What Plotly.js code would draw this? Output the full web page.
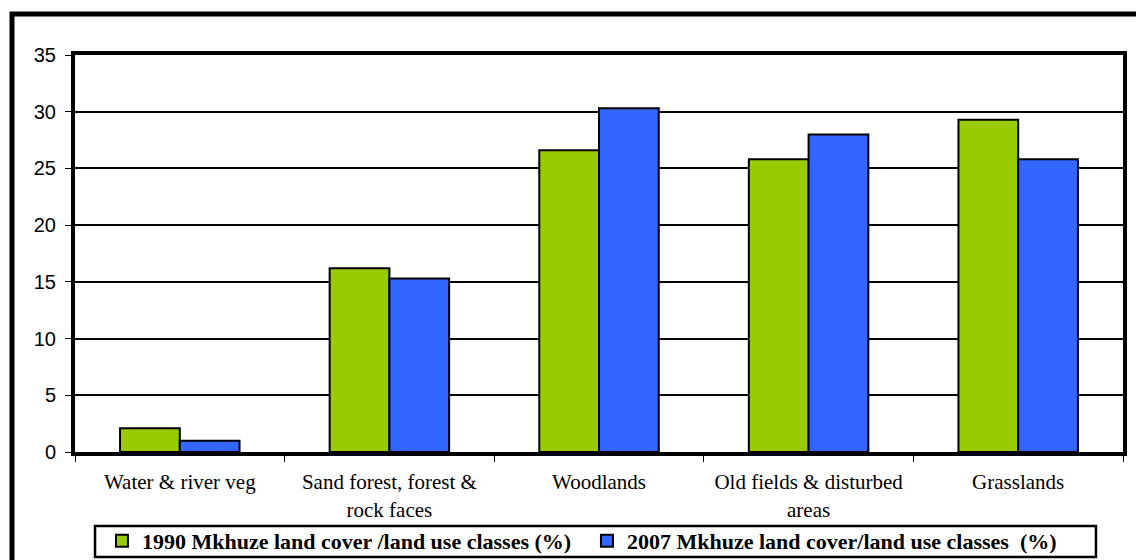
<!DOCTYPE html>
<html>
<head>
<meta charset="utf-8">
<script src="https://cdn.plot.ly/plotly-3.0.1.min.js"></script>
<style>
  html, body { margin: 0; padding: 0; background: #ffffff; }
  #chart { width: 1136px; height: 560px; }
</style>
</head>
<body>
<div id="chart"></div>
<script>
// Land cover classes of the Mkhuze area (% of total area)
const categories = [
  "Water & river veg",
  "Sand forest, forest &<br>rock faces",
  "Woodlands",
  "Old fields & disturbed<br>areas",
  "Grasslands"
];
const series1990Name = "1990 Mkhuze land cover /land use classes (%)";
const series2007Name = "2007 Mkhuze land cover/land use classes  (%)";
const values1990 = [2.1, 16.2, 26.6, 25.8, 29.3];
const values2007 = [1.0, 15.3, 30.3, 28.0, 25.8];
const yTicks = [0, 5, 10, 15, 20, 25, 30, 35];

const traces = [
  {
    type: "bar",
    name: series1990Name,
    x: categories,
    y: values1990,
    marker: { color: "#99CC00", line: { color: "#000000", width: 2 } },
    hoverinfo: "x+y"
  },
  {
    type: "bar",
    name: series2007Name,
    x: categories,
    y: values2007,
    marker: { color: "#3366FF", line: { color: "#000000", width: 2 } },
    hoverinfo: "x+y"
  }
];

const layout = {
  width: 1136,
  height: 560,
  paper_bgcolor: "#ffffff",
  plot_bgcolor: "#ffffff",
  margin: { l: 75, r: 13, t: 55, b: 108, pad: 0, autoexpand: false },
  barmode: "group",
  bargap: 0.43,
  bargroupgap: 0,
  showlegend: true,
  legend: {
    orientation: "h",
    x: 0.4885,
    xanchor: "center",
    y: -0.2242,
    yanchor: "middle",
    borderwidth: 0,
    bgcolor: "rgba(0,0,0,0)",
    entrywidth: 440,
    entrywidthmode: "pixels",
    font: { family: "Liberation Serif, Times New Roman, serif", size: 22, color: "#000000", weight: "bold" },
    traceorder: "normal"
  },
  xaxis: {
    type: "category",
    tickson: "boundaries",
    ticks: "outside",
    ticklen: 6,
    tickwidth: 1,
    tickcolor: "#000000",
    showline: true,
    linecolor: "#000000",
    linewidth: 4,
    mirror: true,
    showgrid: false,
    ticklabelstandoff: 8,
    tickfont: { family: "Liberation Serif, Times New Roman, serif", size: 21, color: "#000000" },
    fixedrange: true
  },
  yaxis: {
    range: [0, 35],
    tickvals: yTicks,
    ticktext: yTicks.map(String),
    ticks: "outside",
    ticklen: 6,
    tickwidth: 1,
    tickcolor: "#000000",
    showline: true,
    linecolor: "#000000",
    linewidth: 4,
    mirror: true,
    showgrid: true,
    gridcolor: "#000000",
    gridwidth: 2,
    zeroline: false,
    ticklabelstandoff: 5,
    tickfont: { family: "Liberation Sans, Arial, sans-serif", size: 20, color: "#000000" },
    fixedrange: true
  },
  shapes: [
    {
      // chart frame
      type: "rect",
      xref: "paper",
      yref: "paper",
      x0: -0.0601,
      x1: 1.2,
      y0: -0.5,
      y1: 1.1033,
      line: { color: "#000000", width: 5 },
      fillcolor: "rgba(0,0,0,0)",
      layer: "above"
    },
    {
      // legend box
      type: "rect",
      xref: "paper",
      yref: "paper",
      x0: 0.0191,
      x1: 0.9742,
      y0: -0.2645,
      y1: -0.1864,
      line: { color: "#000000", width: 2.5 },
      fillcolor: "rgba(0,0,0,0)",
      layer: "above"
    }
  ]
};

Plotly.newPlot("chart", traces, layout, { displayModeBar: false, staticPlot: true });
</script>
</body>
</html>
